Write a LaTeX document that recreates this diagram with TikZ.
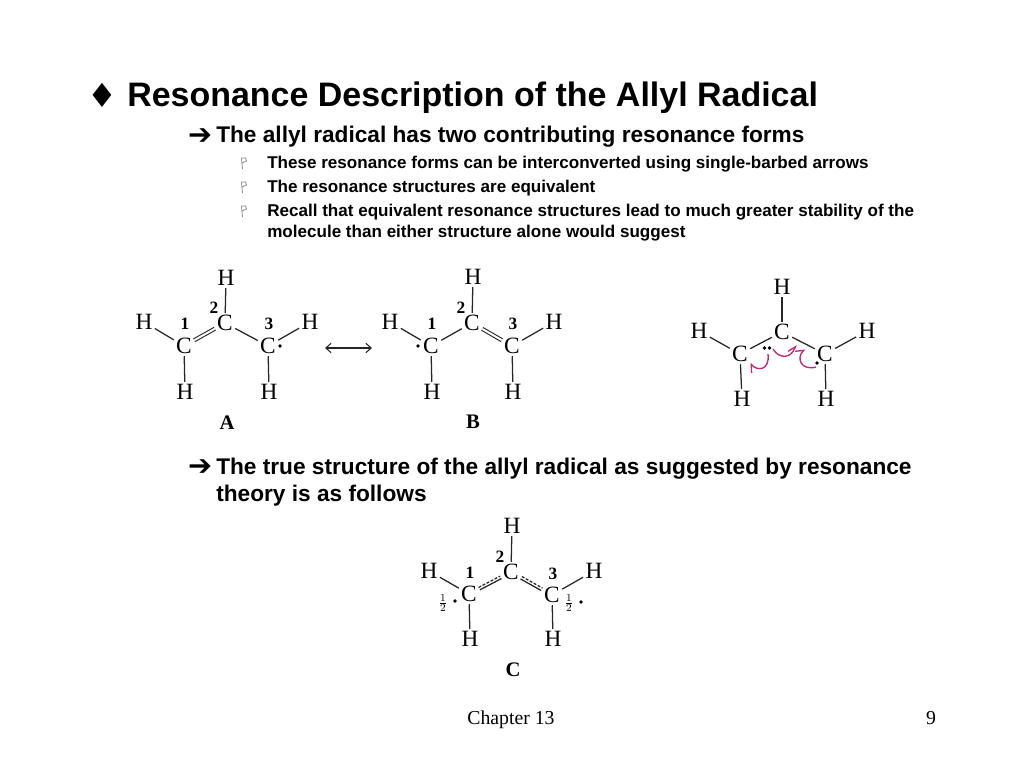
\documentclass[tikz,border=0pt]{standalone}
\usepackage{fontspec}
\setmainfont{Liberation Serif}
\newfontfamily\arialfont{Liberation Sans}
\newfontfamily\symbfont{DejaVu Sans}
\usetikzlibrary{arrows.meta}
\definecolor{curlycol}{RGB}{190,40,120}
\definecolor{flagcol}{RGB}{140,140,140}
\tikzset{>=latex}
\tikzset{
  titletext/.style = {anchor=base west, inner sep=0, font=\arialfont\bfseries\fontsize{25.47}{28}\selectfont},
  subtext/.style = {anchor=base west, inner sep=0, font=\arialfont\bfseries\fontsize{17}{18}\selectfont},
  itemtext/.style = {anchor=base west, inner sep=0, font=\arialfont\bfseries\fontsize{12.8}{14}\selectfont},
  symbtext/.style = {anchor=base west, inner sep=0, font=\symbfont\fontsize{21.5}{22}\selectfont},
  atom/.style = {inner sep=1.6pt, font=\fontsize{17.5}{17}\selectfont},
  numlabel/.style = {inner sep=0, font=\bfseries\fontsize{13}{13}\selectfont},
  formlabel/.style = {inner sep=0, font=\bfseries\fontsize{15.5}{16}\selectfont},
  halflabel/.style = {inner sep=0, font=\fontsize{11}{11}\selectfont},
  footertext/.style = {inner sep=0, anchor=base, font=\fontsize{14.8}{16}\selectfont},
  bond/.style = {line width=0.95pt, black!85},
  dblbond/.style = {bond, double=white, double distance=1.5pt, line width=0.8pt},
  eldot/.style = {circle, fill=black, inner sep=0, minimum size=2.8pt},
  curly/.style = {curlycol, line width=1pt, -{Straight Barb[left, length=5pt, width=8pt]}},
  flag/.style = {flagcol, line width=0.6pt}
}
\newcommand{\flagmark}[2]{%
\draw[flag] (#1-1.5,#2+7) -- (#1-2.5,#2-4) -- (#1+1.5,#2-4) -- (#1+2.5,#2-1) -- (#1-1.8,#2+1);
}
\begin{document}
\begin{tikzpicture}[x=0.75pt, y=-0.75pt]
\useasboundingbox (0,0) rectangle (1024,768);

\node[symbtext, font=\symbfont\fontsize{25}{25}\selectfont] (titlemark) at (87,107) {♦};
\node[titletext] (title) at (127,106) {Resonance Description of the Allyl Radical};
\node[symbtext] (submarka) at (188,144) {➔};
\node[subtext] (suba) at (216,142) {The allyl radical has two contributing resonance forms};
\flagmark{244}{162}
\node[itemtext] (itema) at (267,168) {These resonance forms can be interconverted using single-barbed arrows};
\flagmark{244}{186}
\node[itemtext] (itemb) at (267,192) {The resonance structures are equivalent};
\flagmark{244}{210}
\node[itemtext] (itemc) at (267,216) {Recall that equivalent resonance structures lead to much greater stability of the};
\node[itemtext] (itemd) at (267,237) {molecule than either structure alone would suggest};
\node[symbtext] (submarkb) at (188,475) {➔};
\node[subtext] (subb) at (216,474) {The true structure of the allyl radical as suggested by resonance};
\node[subtext] (subc) at (216,501) {theory is as follows};

% structure A
\node[atom] (ac1) at (184,346) {C};
\node[atom] (ac2) at (225,323) {C};
\node[atom] (ac3) at (268,346) {C};
\node[atom] (aht) at (226,278) {H};
\node[atom] (ahl) at (144,322) {H};
\node[atom] (ahr) at (310,322) {H};
\node[atom] (ahbl) at (185,392) {H};
\node[atom] (ahbr) at (269,392) {H};
\node[numlabel] at (185,324) {1};
\node[numlabel] at (214,308) {2};
\node[numlabel] at (269,324) {3};
\node[formlabel] at (227,423) {A};
\node[eldot] at (280,346) {};
\draw[dblbond] (ac1) -- (ac2);
\draw[bond] (ac2) -- (ac3);
\draw[bond] (ac2) -- (aht);
\draw[bond] (ac1) -- (ahl);
\draw[bond] (ac3) -- (ahr);
\draw[bond] (ac1) -- (ahbl);
\draw[bond] (ac3) -- (ahbr);

\coordinate (resl) at (325,348);
\coordinate (resr) at (372,348);
\draw[black!85, line width=0.8pt, {Straight Barb[length=4pt, width=7pt]}-{Straight Barb[length=4pt, width=7pt]}] (resl) -- (resr);

% structure B
\node[atom] (bc1) at (431,346) {C};
\node[atom] (bc2) at (472,323) {C};
\node[atom] (bc3) at (512,346) {C};
\node[atom] (bht) at (473,277) {H};
\node[atom] (bhl) at (390,322) {H};
\node[atom] (bhr) at (554,322) {H};
\node[atom] (bhbl) at (432,392) {H};
\node[atom] (bhbr) at (513,392) {H};
\node[numlabel] at (432,324) {1};
\node[numlabel] at (461,308) {2};
\node[numlabel] at (513,324) {3};
\node[formlabel] at (473,422) {B};
\node[eldot] at (418,346) {};
\draw[bond] (bc1) -- (bc2);
\draw[dblbond] (bc2) -- (bc3);
\draw[bond] (bc2) -- (bht);
\draw[bond] (bc1) -- (bhl);
\draw[bond] (bc3) -- (bhr);
\draw[bond] (bc1) -- (bhbl);
\draw[bond] (bc3) -- (bhbr);

% curved arrows
\node[atom] (dc1) at (740,354) {C};
\node[atom] (dc2) at (782,332) {C};
\node[atom] (dc3) at (825,354) {C};
\node[atom] (dht) at (782,287) {H};
\node[atom] (dhl) at (699,331) {H};
\node[atom] (dhr) at (867,331) {H};
\node[atom] (dhbl) at (742,399) {H};
\node[atom] (dhbr) at (826,399) {H};
\node[eldot] (dea) at (764.5,348) {};
\node[eldot] (deb) at (769.5,348) {};
\node[eldot] (dec) at (817,363) {};
\draw[bond] (dc1) -- (dc2);
\draw[bond] (dc2) -- (dc3);
\draw[bond] (dc2) -- (dht);
\draw[bond] (dc1) -- (dhl);
\draw[bond] (dc3) -- (dhr);
\draw[bond] (dc1) -- (dhbl);
\draw[bond] (dc3) -- (dhbr);
\coordinate (cura) at (768,354);
\coordinate (curb) at (750,363);
\coordinate (curc) at (773,349);
\coordinate (curd) at (796,345);
\coordinate (cure) at (816,367);
\coordinate (curf) at (805,349);
\draw[curly] (cura) .. controls (770,371) and (757,371) .. (curb);
\draw[curly] (curc) .. controls (779,359) and (791,359) .. (curd);
\draw[curly] (cure) .. controls (801,371) and (796,358) .. (curf);

% structure C
\node[atom] (cc1) at (469,594) {C};
\node[atom] (cc2) at (511,572) {C};
\node[atom] (cc3) at (552,595) {C};
\node[atom] (cht) at (512,526) {H};
\node[atom] (chl) at (429,571) {H};
\node[atom] (chr) at (594,571) {H};
\node[atom] (chbl) at (470,639) {H};
\node[atom] (chbr) at (553,639) {H};
\node[numlabel] at (470,573) {1};
\node[numlabel] at (500,557) {2};
\node[numlabel] at (553,574) {3};
\node[formlabel] at (513,670) {C};
\node[halflabel] at (443,603) {$\frac{1}{2}$};
\node[halflabel] at (569,603) {$\frac{1}{2}$};
\node[eldot] at (455,601) {};
\node[eldot] at (581,602) {};
\draw[bond, transform canvas={xshift=-0.5pt, yshift=0.9pt}, dashed, dash pattern=on 2.2pt off 1.2pt] (cc1) -- (cc2);
\draw[bond, transform canvas={xshift=0.5pt, yshift=-0.9pt}] (cc1) -- (cc2);
\draw[bond, transform canvas={xshift=0.5pt, yshift=0.9pt}, dashed, dash pattern=on 2.2pt off 1.2pt] (cc2) -- (cc3);
\draw[bond, transform canvas={xshift=-0.5pt, yshift=-0.9pt}] (cc2) -- (cc3);
\draw[bond] (cc2) -- (cht);
\draw[bond] (cc1) -- (chl);
\draw[bond] (cc3) -- (chr);
\draw[bond] (cc1) -- (chbl);
\draw[bond] (cc3) -- (chbr);

\node[footertext] (chapter) at (511,724) {Chapter 13};
\node[footertext] (pagenum) at (931,724) {9};
\end{tikzpicture}
\end{document}
